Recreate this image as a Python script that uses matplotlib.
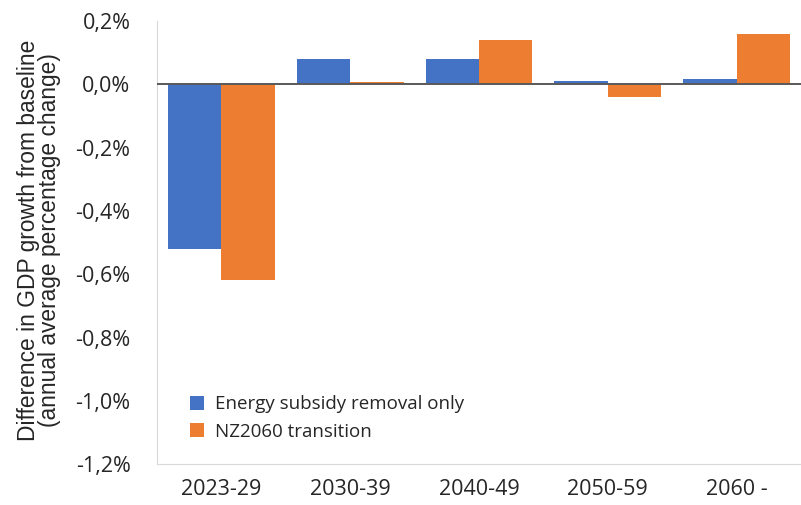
import numpy as np
import matplotlib.pyplot as plt
from matplotlib.ticker import FuncFormatter

# data
periods = ['2023-29', '2030-39', '2040-49', '2050-59', '2060 -']
subsidy_only = [-0.521, 0.082, 0.079, 0.012, 0.016]   # %
nz2060 = [-0.619, 0.008, 0.142, -0.041, 0.158]        # %

blue = '#4472C4'
orange = '#ED7D31'

fig = plt.figure(figsize=(8.01, 5.05), dpi=100)
ax = fig.add_axes([0.196, 0.081, 0.804, 0.877])

x = np.arange(len(periods))
w = 0.415
ax.bar(x - w / 2, subsidy_only, width=w, color=blue, label='Energy subsidy removal only', zorder=2)
ax.bar(x + w / 2, nz2060, width=w, color=orange, label='NZ2060 transition', zorder=2)

ax.axhline(0, color='#595959', lw=1.4, zorder=3)

ax.set_xlim(-0.5, 4.5)
ax.set_ylim(-1.2, 0.2)
ax.set_yticks(np.arange(-1.2, 0.21, 0.2))
ax.yaxis.set_major_formatter(FuncFormatter(lambda v, p: ('%.1f%%' % (round(v, 1) + 0.0)).replace('.', ',')))
ax.set_xticks(x)
ax.set_xticklabels(periods)

for s in ['top', 'right']:
    ax.spines[s].set_visible(False)
ax.spines['left'].set_color('#D9D9D9')
ax.spines['bottom'].set_color('#D9D9D9')
ax.tick_params(length=0, labelsize=15.5, colors='#262626')
ax.tick_params(axis='x', pad=11)
ax.tick_params(axis='y', pad=19)
for lab in ax.get_xticklabels() + ax.get_yticklabels():
    lab.set_family('Open Sans')

ax.set_ylabel('Difference in GDP growth from baseline\n(annual average percentage change)',
              fontsize=16.4, family='Liberation Sans', color='#262626', linespacing=0.9)
ax.yaxis.set_label_coords(-0.149, 0.506)

leg = ax.legend(loc='lower left', bbox_to_anchor=(0.025, 0.015), frameon=False,
                prop={'family': 'Open Sans', 'size': 13.5}, handlelength=0.75, handleheight=0.75,
                handletextpad=0.6, labelspacing=0.5)
for t in leg.get_texts():
    t.set_color('#262626')

fig.savefig('out.png', dpi=100)
